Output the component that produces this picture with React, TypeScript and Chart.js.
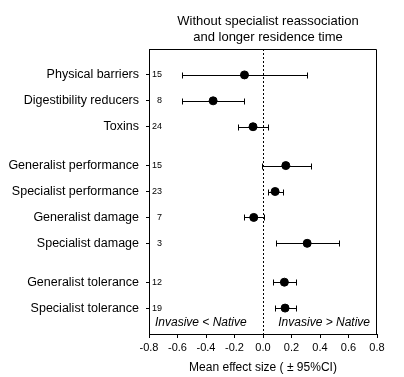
import { useEffect, useRef } from 'react';
import { Chart, registerables } from 'chart.js';

Chart.register(...registerables);

const categories = [
  'Physical barriers',
  'Digestibility reducers',
  'Toxins',
  'Generalist performance',
  'Specialist performance',
  'Generalist damage',
  'Specialist damage',
  'Generalist tolerance',
  'Specialist tolerance',
];
const groupIndex = [0, 0, 0, 1, 1, 1, 1, 2, 2];
const meanEffect = [-0.13, -0.35, -0.07, 0.16, 0.085, -0.065, 0.31, 0.15, 0.155];
const ciLower = [-0.57, -0.57, -0.175, -0.01, 0.035, -0.13, 0.09, 0.07, 0.085];
const ciUpper = [0.31, -0.135, 0.035, 0.34, 0.14, 0.005, 0.53, 0.235, 0.235];
const sampleSizes = [15, 8, 24, 15, 23, 7, 3, 12, 19];
const xTickValues = [-0.8, -0.6, -0.4, -0.2, 0, 0.2, 0.4, 0.6, 0.8];
const titleLines = ['Without specialist reassociation', 'and longer residence time'];
const xAxisTitle = 'Mean effect size ( \u00b1 95%CI)';
const leftNote = 'Invasive < Native';
const rightNote = 'Invasive > Native';

const FONT = '"Liberation Sans", Arial, sans-serif';
const GROUP_GAP = 0.5;
const rowPos = categories.map((_, i) => i + groupIndex[i] * GROUP_GAP);

const forestPlugin = {
  id: 'forest',
  beforeDatasetsDraw(chart: any) {
    const { ctx, chartArea: a, scales } = chart;
    const x = scales.x;
    const y = scales.y;
    ctx.save();
    ctx.strokeStyle = '#000';
    ctx.lineWidth = 1;
    // zero reference line
    const x0 = Math.round(x.getPixelForValue(0)) + 0.5;
    ctx.setLineDash([2, 2]);
    ctx.beginPath();
    ctx.moveTo(x0, a.top);
    ctx.lineTo(x0, a.bottom);
    ctx.stroke();
    ctx.setLineDash([]);
    // error bars
    rowPos.forEach((p, i) => {
      const py = Math.round(y.getPixelForValue(p)) + 0.5;
      const xl = Math.round(x.getPixelForValue(ciLower[i])) + 0.5;
      const xu = Math.round(x.getPixelForValue(ciUpper[i])) + 0.5;
      ctx.beginPath();
      ctx.moveTo(xl, py);
      ctx.lineTo(xu, py);
      ctx.moveTo(xl, py - 3);
      ctx.lineTo(xl, py + 3);
      ctx.moveTo(xu, py - 3);
      ctx.lineTo(xu, py + 3);
      ctx.stroke();
    });
    // frame (top and right)
    ctx.beginPath();
    const t = Math.round(a.top) + 0.5;
    const r = Math.round(a.right) - 0.5;
    ctx.moveTo(a.left, t);
    ctx.lineTo(r, t);
    ctx.lineTo(r, a.bottom);
    ctx.stroke();
    // title
    ctx.fillStyle = '#000';
    ctx.font = `13px ${FONT}`;
    ctx.textAlign = 'center';
    ctx.textBaseline = 'middle';
    const cx = (a.left + a.right) / 2 + 5;
    titleLines.forEach((line, i) => {
      ctx.fillText(line, cx, a.top - 28 + i * 16);
    });
    // sample sizes
    ctx.font = `9px ${FONT}`;
    ctx.textAlign = 'right';
    rowPos.forEach((p, i) => {
      ctx.fillText(String(sampleSizes[i]), a.left + 13, y.getPixelForValue(p));
    });
    // notes
    ctx.font = `italic 12px ${FONT}`;
    ctx.textAlign = 'left';
    ctx.fillText(leftNote, a.left + 6, a.bottom - 11);
    ctx.textAlign = 'right';
    ctx.fillText(rightNote, a.right - 7, a.bottom - 11);
    ctx.restore();
  },
};

export default function App() {
  const ref = useRef<HTMLCanvasElement | null>(null);
  useEffect(() => {
    if (!ref.current) return;
    const chart = new Chart(ref.current, {
      type: 'scatter',
      data: {
        datasets: [
          {
            data: rowPos.map((p, i) => ({ x: meanEffect[i], y: p })),
            pointRadius: 4,
            pointHoverRadius: 4,
            pointBackgroundColor: '#000',
            pointBorderColor: '#000',
            pointBorderWidth: 1,
          },
        ],
      },
      options: {
        responsive: false,
        animation: false,
        events: [],
        layout: { padding: { left: 0, right: 27, top: 49, bottom: 0 } },
        plugins: {
          legend: { display: false },
          tooltip: { enabled: false },
          title: { display: false },
        },
        scales: {
          x: {
            type: 'linear',
            min: -0.8,
            max: 0.8,
            afterBuildTicks: (s: any) => {
              s.ticks = xTickValues.map((v) => ({ value: v }));
            },
            afterFit: (s: any) => {
              s.height = 43;
            },
            ticks: {
              callback: (v: any) => Number(v).toFixed(1),
              font: { size: 11, family: FONT },
              color: '#000',
              padding: 3,
              maxRotation: 0,
              autoSkip: false,
            },
            grid: { drawOnChartArea: false, drawTicks: true, tickLength: 4, tickColor: '#000' },
            border: { color: '#000', width: 1 },
            title: {
              display: true,
              text: xAxisTitle,
              color: '#000',
              font: { size: 12, family: FONT },
              padding: { top: 0, bottom: 2 },
            },
          },
          y: {
            type: 'linear',
            min: -1,
            max: rowPos[rowPos.length - 1] + 1,
            reverse: true,
            afterBuildTicks: (s: any) => {
              s.ticks = rowPos.map((v) => ({ value: v }));
            },
            afterFit: (s: any) => {
              s.width = 149;
            },
            ticks: {
              callback: (_v: any, i: number) => categories[i],
              font: { size: 12.5, family: FONT },
              color: '#000',
              padding: 7,
              autoSkip: false,
            },
            grid: { drawOnChartArea: false, drawTicks: true, tickLength: 3, tickColor: '#000' },
            border: { color: '#000', width: 1 },
          },
        },
      } as any,
      plugins: [forestPlugin],
    });
    return () => chart.destroy();
  }, []);
  return (
    <canvas
      ref={ref}
      width={404}
      height={377}
      style={{ position: 'absolute', left: 0, top: 0, display: 'block', background: '#fff' }}
    />
  );
}
